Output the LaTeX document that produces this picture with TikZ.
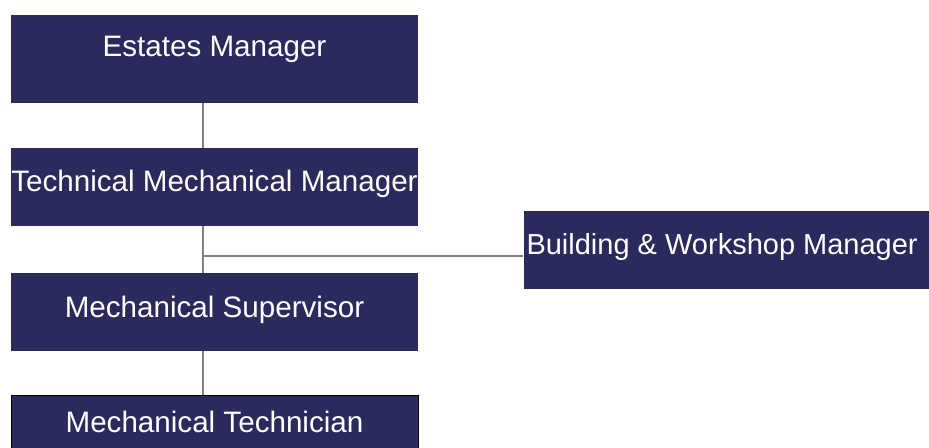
\documentclass[tikz,border=0pt]{standalone}
\usepackage{fontspec}
\setmainfont{Liberation Sans}
\definecolor{cNavy}{RGB}{43,42,92}
\definecolor{cLine}{RGB}{128,128,128}

\begin{document}
\begin{tikzpicture}[x=0.75pt, y=-0.75pt,
        post/.style={fill=cNavy, text=white, inner sep=0pt, anchor=base,
                minimum width=305.25pt, font=\fontsize{22.2}{26}\selectfont},
        link/.style={draw=cLine, line width=1.5pt}]
        \clip (0,0) rectangle (929,448);
        \node[post, text height=31.5pt, text depth=34.5pt] (em) at (214.5,57) {Estates Manager};
        \node[post, text height=33pt, text depth=25.5pt] (tmm) at (214.5,192) {Technical Mechanical Manager};
        \node[post, font=\fontsize{21.75}{26}\selectfont, inner xsep=2.25pt, text width=300.75pt, align=flush left,
                text height=33pt, text depth=25.5pt] (bwm) at (727,255) {Building \& Workshop Manager};
        \node[post, text height=33.75pt, text depth=24.75pt] (ms) at (214.5,318) {Mechanical Supervisor};
        \node[post, draw=black, line width=0.75pt, text height=27.75pt, text depth=30.75pt] (mt) at (214.5,433) {Mechanical Technician};
        \coordinate (trunk) at (203,0);
        \coordinate (j) at (203,256);
        \draw[link] (em.south -| trunk) -- (tmm.north -| trunk);
        \draw[link] (tmm.south -| trunk) -- (ms.north -| trunk);
        \draw[link] (j) -- (j -| bwm.west);
        \draw[link] (ms.south -| trunk) -- (mt.north -| trunk);
\end{tikzpicture}
\end{document}
